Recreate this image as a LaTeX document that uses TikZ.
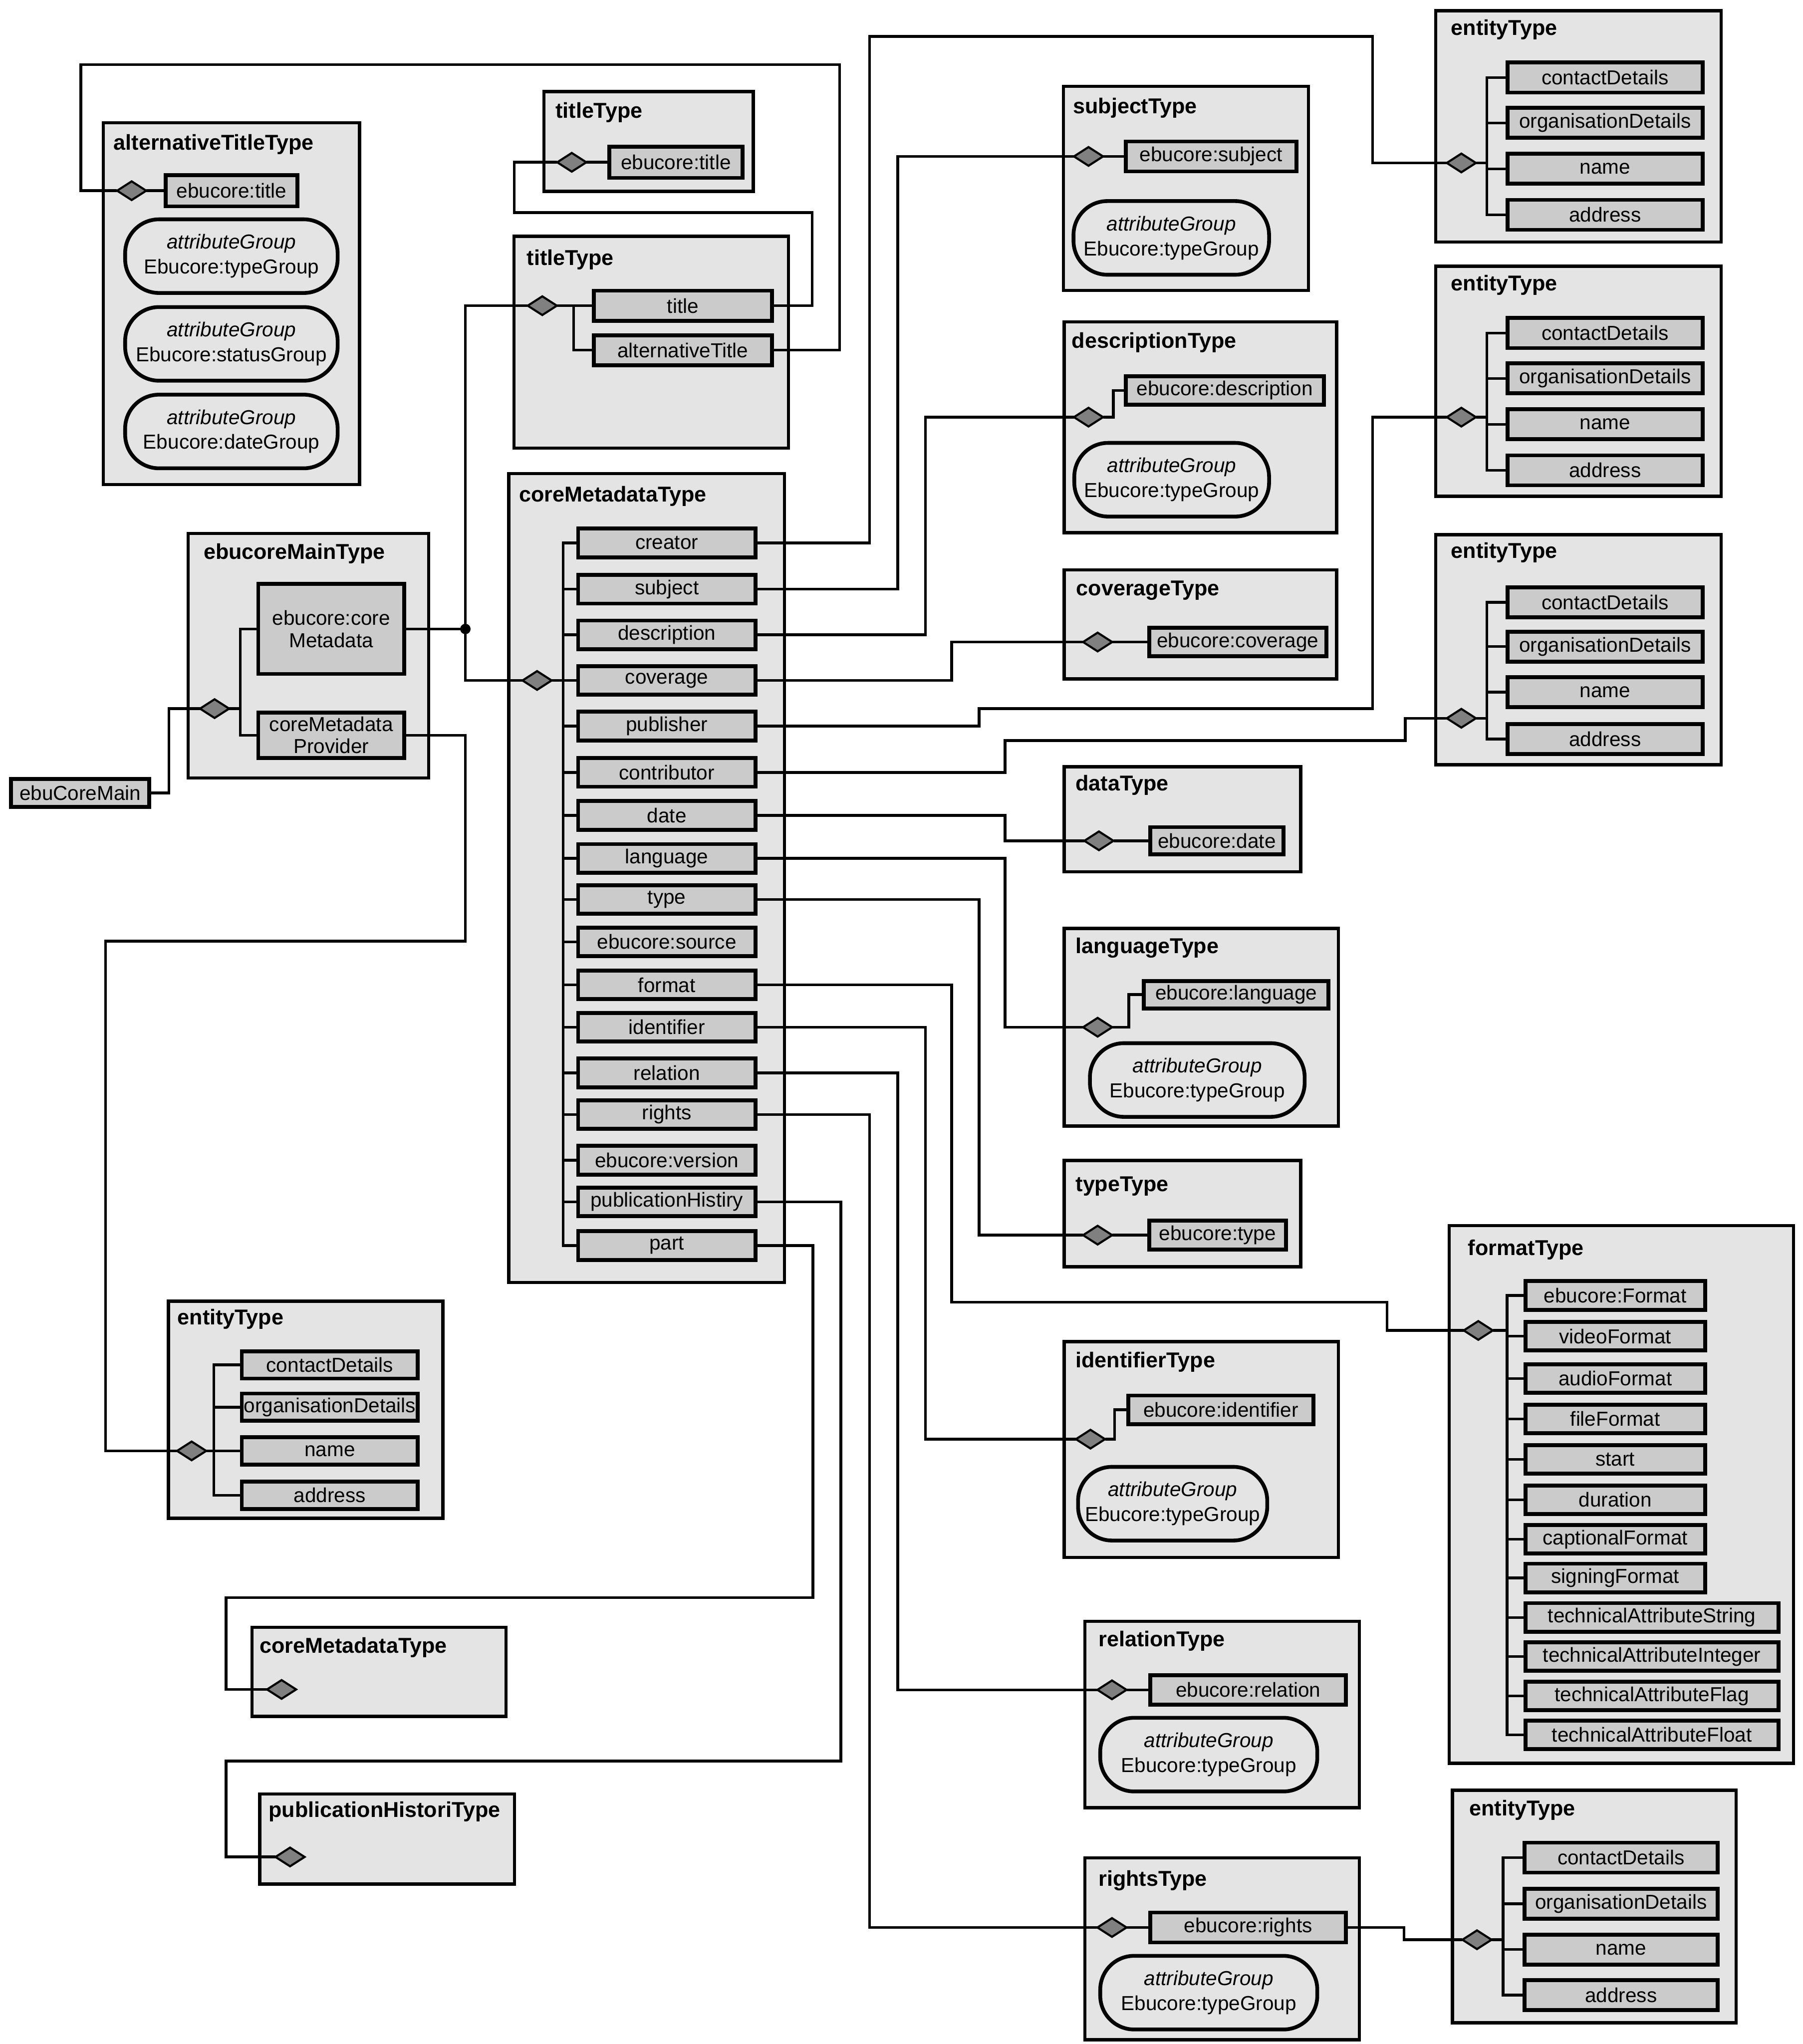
\documentclass[tikz,border=0pt]{standalone}
\usepackage{fontspec}
\setmainfont{Liberation Sans}
\usetikzlibrary{shapes.geometric}
\definecolor{contc}{HTML}{E4E4E4}
\definecolor{elemc}{HTML}{CBCBCB}
\definecolor{diac}{HTML}{808080}
\tikzset{
  cont/.style={draw, line width=2.5pt, fill=contc, inner sep=0pt},
  elem/.style={draw, line width=3pt, fill=elemc, inner sep=0pt, align=center, font=\fontsize{15.5}{17}\selectfont},
  stadium/.style={draw, line width=2.9pt, fill=contc, rounded corners=26pt, inner sep=0pt, align=center, font=\fontsize{15.5}{19}\selectfont},
  dia/.style={shape=diamond, draw, line width=1.6pt, fill=diac, inner sep=0pt, minimum width=23pt, minimum height=15pt},
  ttl/.style={anchor=base west, inner sep=0pt, font=\fontsize{16.5}{19}\selectfont\bfseries},
  conn/.style={draw, line width=2.1pt, line join=miter, line cap=rect},
}
\newcommand\Cont[5]{\node[cont, minimum width={#4-#2-2.5}, minimum height={#5-#3-2.5}] (#1) at ({(#2+#4)/2},{(#3+#5)/2}) {};}
\newcommand\El[6][22]{\node[elem, minimum width={#4-#3-3}, minimum height=#1] (#2) at ({(#3+#4)/2},#5) {#6};}
\newcommand\Ttl[4]{\node[ttl] (#1) at (#2,#3) {#4};}
\newcommand\Stad[4]{\node[stadium, minimum width={#3-#2-3}, minimum height=56.5] (#1) at ({(#2+#3)/2},#4) {\textit{attributeGroup}\\Ebucore:typeGroup};}
\newcommand\StadX[5]{\node[stadium, minimum width={#3-#2-3}, minimum height=56.5] (#1) at ({(#2+#3)/2},#4) {\textit{attributeGroup}\\#5};}
\newcommand\Dia[3]{\node[dia] (#1) at (#2,#3) {};}
\begin{document}
\begin{tikzpicture}[x=1pt,y=-1pt]
\useasboundingbox (0,0) rectangle (1383,1568);
% ---------------- containers
\Cont{att}{78}{93}{277}{373}
\Cont{tt1}{416}{69}{579}{148}
\Cont{tt2}{393}{180}{606}{345}
\Cont{emt}{143}{408}{330}{598}
\Cont{cmt}{389}{362}{603}{985}
\Cont{subjT}{814.5}{65}{1005}{224}
\Cont{descT}{815}{245.6}{1026.5}{410}
\Cont{covT}{815}{436}{1026.5}{522}
\Cont{dataT}{815}{587}{999}{670}
\Cont{langT}{815}{711}{1028}{865}
\Cont{typeT}{815}{889}{999}{973}
\Cont{idT}{815}{1028}{1028}{1196}
\Cont{relT}{831}{1242.5}{1044}{1388}
\Cont{rightsT}{831}{1424}{1044}{1566}
\Cont{fmtT}{1110.5}{939}{1377}{1354}
\Cont{entA}{1100}{7}{1321.5}{187}
\Cont{entB}{1100}{203}{1321.5}{382}
\Cont{entC}{1100}{409}{1321.5}{588}
\Cont{entD}{1113}{1372}{1333}{1553}
\Cont{entE}{128}{997}{341}{1166}
\Cont{cmb}{192}{1247}{389.5}{1318}
\Cont{pht}{198}{1375}{396}{1446.5}
% ---------------- titles
\Ttl{tAtt}{87}{115}{alternativeTitleType}
\Ttl{tTT1}{426}{90.5}{titleType}
\Ttl{tTT2}{404}{203.5}{titleType}
\Ttl{tEmt}{156}{429}{ebucoreMainType}
\Ttl{tCmt}{398}{385}{coreMetadataType}
\Ttl{tSubj}{823}{87}{subjectType}
\Ttl{tDesc}{822}{267}{descriptionType}
\Ttl{tCov}{825.5}{457}{coverageType}
\Ttl{tData}{825}{606.5}{dataType}
\Ttl{tLang}{825}{731.5}{languageType}
\Ttl{tType}{825}{914}{typeType}
\Ttl{tId}{825}{1049}{identifierType}
\Ttl{tRel}{842.5}{1263}{relationType}
\Ttl{tRights}{842.5}{1447}{rightsType}
\Ttl{tFmt}{1126}{963}{formatType}
\Ttl{tEntA}{1113}{27}{entityType}
\Ttl{tEntB}{1113}{223}{entityType}
\Ttl{tEntC}{1113}{428}{entityType}
\Ttl{tEntD}{1127}{1393}{entityType}
\Ttl{tEntE}{136}{1016}{entityType}
\Ttl{tCmb}{199}{1268}{coreMetadataType}
\Ttl{tPht}{206}{1394}{publicationHistoriType}
% ---------------- attribute groups
\Stad{attS1}{94.5}{260.5}{196.5}
\StadX{attS2}{94.5}{260.5}{263.8}{Ebucore:statusGroup}
\StadX{attS3}{94.5}{260.5}{331}{Ebucore:dateGroup}
\Stad{subjS}{822}{975}{182.5}
\Stad{descS}{822.6}{975}{368}
\Stad{langS}{834.6}{1002.3}{828.5}
\Stad{idS}{825.5}{973.6}{1153.5}
\Stad{relS}{842.5}{1012}{1346}
\Stad{rightsS}{842.5}{1012}{1528.6}
% ---------------- elements
\El[24]{attTitle}{125.6}{229.5}{146.3}{ebucore:title}
\El[24]{tt1Title}{466}{571}{124.5}{ebucore:title}
\El[23]{title}{454}{593.6}{234.5}{title}
\El[23]{altTitle}{454}{593.6}{268.6}{alternativeTitle}
\El[69]{coreMD}{196.6}{311.6}{482.5}{ebucore:core\\Metadata}
\El[35]{provider}{196.6}{311.6}{564}{coreMetadata\\Provider}
\El[21.5]{ecm}{7}{116}{608.3}{ebuCoreMain}
\El{creator}{442}{581}{416.5}{creator}
\El{subject}{442}{581}{452}{subject}
\El{description}{442}{581}{487}{description}
\El{coverage}{442}{581}{522}{coverage}
\El{publisher}{442}{581}{557}{publisher}
\El{contributor}{442}{581}{592.5}{contributor}
\El{date}{442}{581}{625.5}{date}
\El{language}{442}{581}{658.5}{language}
\El{type}{442}{581}{690}{type}
\El{source}{442}{581}{722.5}{ebucore:source}
\El{format}{442}{581}{755.5}{format}
\El{identifier}{442}{581}{788}{identifier}
\El{relation}{442}{581}{823}{relation}
\El{rights}{442}{581}{855}{rights}
\El{version}{442}{581}{890}{ebucore:version}
\El{pubHist}{442}{581}{922}{publicationHistiry}
\El{part}{442}{581}{955.5}{part}
\El[23]{subjEl}{862}{996}{120}{ebucore:subject}
\El{descEl}{862}{1017}{299.5}{ebucore:description}
\El{covEl}{880}{1019}{492.5}{ebucore:coverage}
\El[21]{dateEl}{881}{986}{645}{ebucore:date}
\El[21]{langEl}{876}{1020.6}{763}{ebucore:language}
\El{typeEl}{880}{988}{947.5}{ebucore:type}
\El{idEl}{864}{1009}{1081.5}{ebucore:identifier}
\El[22.5]{relEl}{881}{1034}{1296.3}{ebucore:relation}
\El[23]{rightsEl}{881}{1034}{1478.6}{ebucore:rights}
\El{fFormat}{1168.6}{1309.5}{993.8}{ebucore:Format}
\El{fVideo}{1168.6}{1309.5}{1025}{videoFormat}
\El{fAudio}{1168.6}{1309.5}{1057.5}{audioFormat}
\El{fFile}{1168.6}{1309.5}{1088.5}{fileFormat}
\El{fStart}{1168.6}{1309.5}{1119.5}{start}
\El{fDur}{1168.6}{1309.5}{1150.5}{duration}
\El{fCap}{1168.6}{1309.5}{1180.8}{captionalFormat}
\El{fSign}{1168.6}{1309.5}{1210.5}{signingFormat}
\El{fStr}{1168.6}{1365.7}{1240.8}{technicalAttributeString}
\El{fInt}{1168.6}{1365.7}{1270.8}{technicalAttributeInteger}
\El{fFlag}{1168.6}{1365.7}{1301}{technicalAttributeFlag}
\El{fFloat}{1168.6}{1365.7}{1330.8}{technicalAttributeFloat}
\El[23]{eAc}{1155}{1307.5}{59.5}{contactDetails}
\El[23]{eAo}{1155}{1307.5}{94.3}{organisationDetails}
\El[23]{eAn}{1155}{1307.5}{129.5}{name}
\El[23]{eAa}{1155}{1307.5}{164.8}{address}
\El[23]{eBc}{1155}{1307.5}{255.5}{contactDetails}
\El[23]{eBo}{1155}{1307.5}{290.3}{organisationDetails}
\El[23]{eBn}{1155}{1307.5}{325.5}{name}
\El[23]{eBa}{1155}{1307.5}{360.8}{address}
\El[23]{eCc}{1155}{1307.5}{462}{contactDetails}
\El[23]{eCo}{1155}{1307.5}{496}{organisationDetails}
\El[23]{eCn}{1155}{1307.5}{531}{name}
\El[23]{eCa}{1155}{1307.5}{567}{address}
\El[23]{eDc}{1168}{1319}{1425}{contactDetails}
\El[23]{eDo}{1168}{1319}{1460.5}{organisationDetails}
\El[23]{eDn}{1168}{1319}{1495.5}{name}
\El[23]{eDa}{1168}{1319}{1530.5}{address}
\El[21]{eEc}{184}{322}{1047}{contactDetails}
\El[21]{eEo}{184}{322}{1079.5}{organisationDetails}
\El[21]{eEn}{184}{322}{1113}{name}
\El[21]{eEa}{184}{322}{1147}{address}
% ---------------- diamonds
\Dia{dAtt}{101}{146.3}
\Dia{dTT1}{438.6}{124.5}
\Dia{dTT2}{416}{234.5}
\Dia{dEmt}{164.6}{543.6}
\Dia{dCmt}{412}{522}
\Dia{dSubj}{835}{120}
\Dia{dDesc}{835}{320}
\Dia{dCov}{842}{492.5}
\Dia{dData}{843}{645}
\Dia{dLang}{842}{788}
\Dia{dType}{842}{947.5}
\Dia{dId}{836.5}{1104}
\Dia{dRel}{853}{1296.3}
\Dia{dRights}{853}{1478.6}
\Dia{dFmt}{1134}{1020.6}
\Dia{dEntA}{1121}{125}
\Dia{dEntB}{1121}{320}
\Dia{dEntC}{1121}{551}
\Dia{dEntD}{1133}{1488}
\Dia{dEntE}{147}{1113}
\Dia{dCmb}{216}{1296}
\Dia{dPht}{222.5}{1424.5}
\node[circle, fill=black, inner sep=0pt, minimum size=8pt] (jn) at (357,482.5) {};
% ---------------- branch coordinates
\coordinate (bTT2) at (440,0);
\coordinate (bEmt) at (184.4,0);
\coordinate (bCmt) at (432,0);
\coordinate (bFmt) at (1156,0);
\coordinate (bEntA) at (1140.5,0);
\coordinate (bEntD) at (1153,0);
\coordinate (bEntE) at (164,0);
% ---------------- internal connectors
\draw[conn] (dAtt.east) -- (attTitle.west);
\draw[conn] (dTT1.east) -- (tt1Title.west);
\draw[conn] (dTT2.east) -- (title.west);
\draw[conn] (title.west -| bTT2) |- (altTitle.west);
\draw[conn] (dEmt.east) -- (dEmt.east -| bEmt);
\draw[conn] (coreMD.west) -- (coreMD.west -| bEmt) -- (provider.west -| bEmt) -- (provider.west);
\draw[conn] (ecm.east) -| (129.5,543.6) -- (dEmt.west);
\draw[conn] (dCmt.east) -- (dCmt.east -| bCmt);
\draw[conn] (creator.west -| bCmt) -- (part.west -| bCmt);
\foreach \n in {creator,subject,description,coverage,publisher,contributor,date,language,type,source,format,identifier,relation,rights,version,pubHist,part}
  \draw[conn] (\n.west) -- (\n.west -| bCmt);
\draw[conn] (dSubj.east) -- (subjEl.west);
\draw[conn] (dDesc.east) -- (854,320) |- (descEl.west);
\draw[conn] (dCov.east) -- (covEl.west);
\draw[conn] (dData.east) -- (dateEl.west);
\draw[conn] (dLang.east) -- (866,788) |- (langEl.west);
\draw[conn] (dType.east) -- (typeEl.west);
\draw[conn] (dId.east) -- (855,1104) |- (idEl.west);
\draw[conn] (dRel.east) -- (relEl.west);
\draw[conn] (dRights.east) -- (rightsEl.west);
\draw[conn] (dFmt.east) -- (dFmt.east -| bFmt);
\draw[conn] (fFormat.west -| bFmt) -- (fFloat.west -| bFmt);
\foreach \n in {fFormat,fVideo,fAudio,fFile,fStart,fDur,fCap,fSign,fStr,fInt,fFlag,fFloat}
  \draw[conn] (\n.west) -- (\n.west -| bFmt);
% entity groups
\draw[conn] (dEntA.east) -- (dEntA.east -| bEntA);
\draw[conn] (eAc.west -| bEntA) -- (eAa.west -| bEntA);
\foreach \n in {eAc,eAo,eAn,eAa} \draw[conn] (\n.west) -- (\n.west -| bEntA);
\draw[conn] (dEntB.east) -- (dEntB.east -| bEntA);
\draw[conn] (eBc.west -| bEntA) -- (eBa.west -| bEntA);
\foreach \n in {eBc,eBo,eBn,eBa} \draw[conn] (\n.west) -- (\n.west -| bEntA);
\draw[conn] (dEntC.east) -- (dEntC.east -| bEntA);
\draw[conn] (eCc.west -| bEntA) -- (eCa.west -| bEntA);
\foreach \n in {eCc,eCo,eCn,eCa} \draw[conn] (\n.west) -- (\n.west -| bEntA);
\draw[conn] (dEntD.east) -- (dEntD.east -| bEntD);
\draw[conn] (eDc.west -| bEntD) -- (eDa.west -| bEntD);
\foreach \n in {eDc,eDo,eDn,eDa} \draw[conn] (\n.west) -- (\n.west -| bEntD);
\draw[conn] (dEntE.east) -- (dEntE.east -| bEntE);
\draw[conn] (eEc.west -| bEntE) -- (eEa.west -| bEntE);
\foreach \n in {eEc,eEo,eEn,eEa} \draw[conn] (\n.west) -- (\n.west -| bEntE);
% ---------------- external connectors
\draw[conn] (altTitle.east) -| (644,49.5) -| (62,146.3) -- (dAtt.west);
\draw[conn] (title.east) -| (623,163) -| (394.5,124.5) -- (dTT1.west);
\draw[conn] (dTT2.west) -| (jn.center) |- (dCmt.west);
\draw[conn] (coreMD.east) -- (jn.center);
\draw[conn] (provider.east) -| (357,722) -| (81,1113) -- (dEntE.west);
\draw[conn] (creator.east) -| (667,28) -| (1053,125) -- (dEntA.west);
\draw[conn] (subject.east) -| (688.7,120) -- (dSubj.west);
\draw[conn] (description.east) -| (710,320) -- (dDesc.west);
\draw[conn] (coverage.east) -| (730,492.5) -- (dCov.west);
\draw[conn] (publisher.east) -| (751,543.5) -| (1053,320) -- (dEntB.west);
\draw[conn] (contributor.east) -| (771,568) -| (1078,551) -- (dEntC.west);
\draw[conn] (date.east) -| (771,645) -- (dData.west);
\draw[conn] (language.east) -| (771,788) -- (dLang.west);
\draw[conn] (type.east) -| (751,947.5) -- (dType.west);
\draw[conn] (format.east) -| (730,999) -| (1064,1020.6) -- (dFmt.west);
\draw[conn] (identifier.east) -| (710,1104) -- (dId.west);
\draw[conn] (relation.east) -| (688.7,1296.3) -- (dRel.west);
\draw[conn] (rights.east) -| (667,1478.6) -- (dRights.west);
\draw[conn] (pubHist.east) -| (645,1351) -| (173.5,1424.5) -- (dPht.west);
\draw[conn] (part.east) -| (623.5,1225.6) -| (173.5,1296) -- (dCmb.west);
\draw[conn] (rightsEl.east) -| (1077,1488) -- (dEntD.west);
\end{tikzpicture}
\end{document}
